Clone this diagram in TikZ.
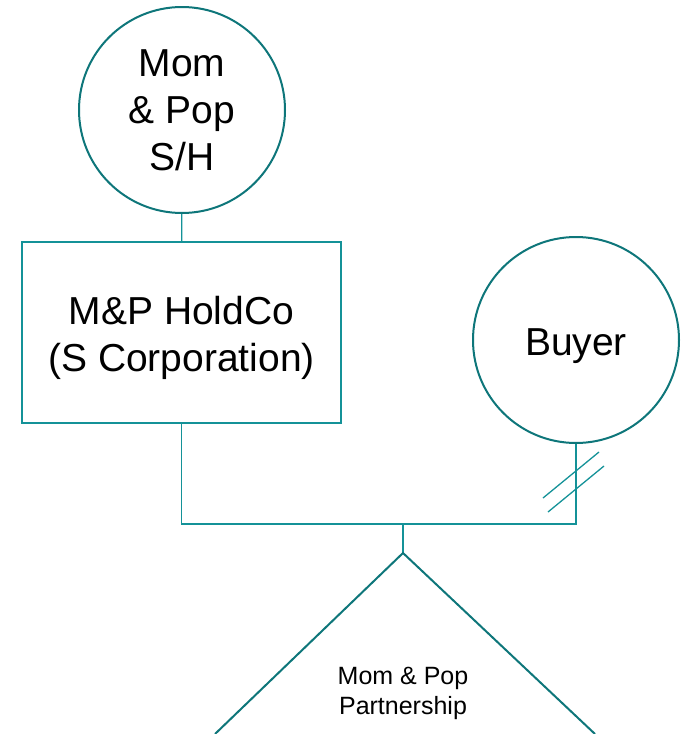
\documentclass[tikz,border=0pt]{standalone}
\usepackage{fontspec}
\setmainfont{Liberation Sans}
\usepackage{tikz}
\usetikzlibrary{positioning,calc}
\definecolor{TealDark}{RGB}{14,118,122}
\definecolor{TealLine}{RGB}{20,146,152}
\tikzset{
  owner/.style={circle,draw=TealDark,line width=2pt,fill=white,inner sep=0pt,
    minimum size=206pt,align=center,font=\fontsize{39}{47}\selectfont},
  entity/.style={rectangle,draw=TealLine,line width=1.8pt,fill=white,inner sep=0pt,
    minimum width=319pt,minimum height=181pt},
  big/.style={align=center,font=\fontsize{39}{47}\selectfont},
  link/.style={draw=TealLine,line width=1.3pt},
  tri/.style={draw=TealDark,line width=2pt},
}
\tikzset{small/.style={align=center,font=\fontsize{25}{30}\selectfont}}

\begin{document}
\begin{tikzpicture}[x=1pt,y=1pt]
\useasboundingbox (0,0) rectangle (681,-734);
\node[owner] (mp) at (182,-110) {Mom\\\& Pop\\S/H};
\node[entity] (hold) at (181.5,-332.5) {};
\node[big] (holdlbl) at ([yshift=-5pt]hold.center) {M\&P HoldCo\\(S Corporation)};
\node[owner] (buyer) at (576,-340) {};
\node[big] (buyerlbl) at ([yshift=-6pt]buyer.center) {Buyer};
\coordinate (jn) at (403,-524);
\coordinate (apex) at (403,-553);
\draw[link] (mp) -- (hold);
\draw[link] (hold.south) |- (jn) -| (buyer.south);
\draw[link] (jn) -- (apex);
% non-voting marks
\draw[link] (543,-498) -- (599,-452);
\draw[link] (548,-512) -- (604,-466);
\draw[tri] ($(apex)+(-188,-181)$) -- (apex) -- ($(apex)+(192,-181)$);
\node[small] (ptr) at (403,-693) {Mom \& Pop\\Partnership};
\end{tikzpicture}
\end{document}
